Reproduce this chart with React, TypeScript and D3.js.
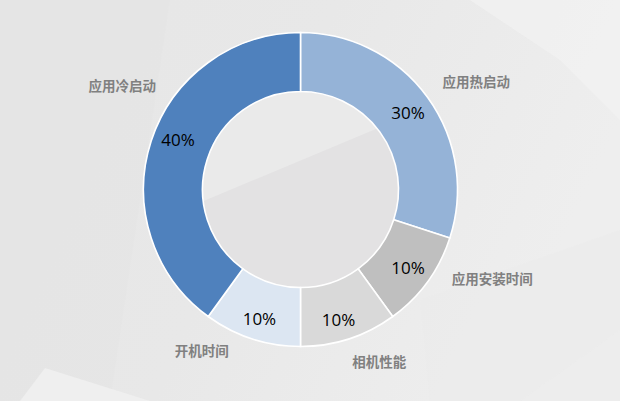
import React from "react";
import * as d3 from "d3";

const categories = ["应用热启动", "应用安装时间", "相机性能", "开机时间", "应用冷启动"];
const values = [30, 10, 10, 10, 40];
const valueLabels = ["30%", "10%", "10%", "10%", "40%"];
const colors = ["#95B3D7", "#BFBFBF", "#D9D9D9", "#DCE6F2", "#4F81BD"];

// layout nudges (px) for label placement relative to arc centroids
const pctNudge: [number, number][] = [[0, 2], [0, 0], [-3, 4], [0, 3], [4, -8]];
const catNudge: [number, number][] = [[14, 10], [30, -28], [17, -17], [-37, -28], [12, -41]];

const W = 620;
const H = 401;
const cx = 300.5;
const cy = 189.5;
const R = 157;
const RI = 98;

export default function App() {
  const pie = d3.pie<number>().sort(null).value((d) => d)(values);
  const arc = d3.arc<d3.PieArcDatum<number>>().innerRadius(RI).outerRadius(R);
  const pctArc = d3.arc<d3.PieArcDatum<number>>().innerRadius(133).outerRadius(133);
  const catArc = d3.arc<d3.PieArcDatum<number>>().innerRadius(200).outerRadius(200);

  return (
    <svg
      width={W}
      height={H}
      style={{ position: "absolute", left: 0, top: 0 }}
      viewBox={`0 0 ${W} ${H}`}
    >
      <defs>
        <linearGradient id="bg" x1="0" y1="0" x2="1" y2="0.3">
          <stop offset="0" stopColor="#e6e6e6" />
          <stop offset="0.5" stopColor="#e8e8e8" />
          <stop offset="1" stopColor="#eeeeee" />
        </linearGradient>
        <clipPath id="inner">
          <circle cx={0} cy={0} r={RI} />
        </clipPath>
      </defs>
      <rect x={0} y={0} width={W} height={H} fill="url(#bg)" />
      <polygon points="0,0 170,0 110,401 0,401" fill="#e4e4e4" opacity={0.6} />
      <polygon points="470,0 620,0 620,120 560,60" fill="#f1f1f1" opacity={0.8} />
      <polygon points="20,401 45,368 150,401" fill="#efefef" opacity={0.9} />
      <polygon points="520,401 620,330 620,401" fill="#ececec" opacity={0.9} />
      <polygon points="420,300 620,230 620,330 520,401 430,401" fill="#ebebeb" opacity={0.6} />
      <g transform={`translate(${cx},${cy})`}>
        <circle r={RI} fill="#e3e2e3" />
        <g clipPath="url(#inner)">
          <polygon points={`${-RI},${-RI} ${RI},${-RI} ${RI},${-70} ${-RI},${12}`} fill="#eaeaea" />
        </g>
        {pie.map((p, i) => (
          <path key={i} d={arc(p) || ""} fill={colors[i]} stroke="#ffffff" strokeWidth={1.6} />
        ))}
        {pie.map((p, i) => {
          const [x, y] = pctArc.centroid(p);
          return (
            <text
              key={"p" + i}
              x={x + pctNudge[i][0]}
              y={y + pctNudge[i][1]}
              dy="0.35em"
              textAnchor="middle"
              fontFamily="'Open Sans', 'Noto Sans', sans-serif"
              fontSize={17}
              fill="#000000"
            >
              {valueLabels[i]}
            </text>
          );
        })}
        {pie.map((p, i) => {
          const [x, y] = catArc.centroid(p);
          return (
            <text
              key={"c" + i}
              x={x + catNudge[i][0]}
              y={y + catNudge[i][1]}
              dy="0.35em"
              textAnchor="middle"
              fontFamily="'Noto Sans CJK SC', sans-serif"
              fontSize={13.5}
              fontWeight={700}
              fill="#808080"
            >
              {categories[i]}
            </text>
          );
        })}
      </g>
    </svg>
  );
}
